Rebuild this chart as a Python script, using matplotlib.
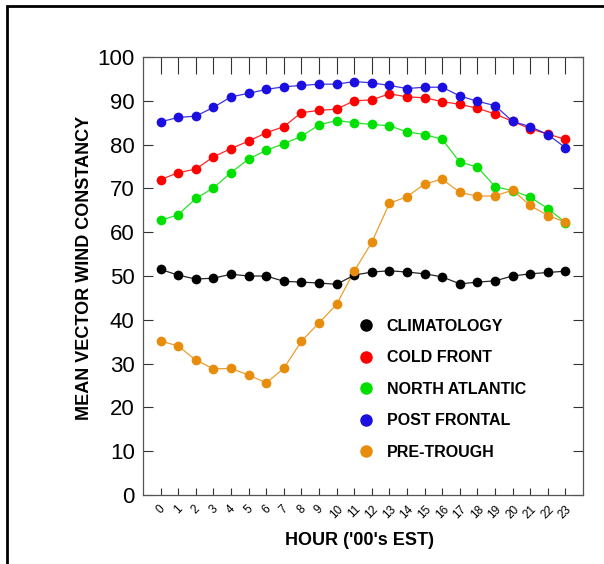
import matplotlib
matplotlib.use("Agg")
import matplotlib.pyplot as plt
from matplotlib.lines import Line2D
from matplotlib.patches import Rectangle

hours = list(range(24))

climatology = [51.5, 50.2, 49.3, 49.5, 50.4, 50.0, 50.0, 48.8, 48.6, 48.4, 48.1, 50.2,
               50.9, 51.2, 50.9, 50.5, 49.8, 48.2, 48.6, 48.9, 50.0, 50.5, 50.8, 51.1]
cold_front = [72.0, 73.6, 74.4, 77.2, 79.1, 80.8, 82.7, 84.1, 87.3, 87.8, 88.1, 90.0,
              90.2, 91.6, 90.9, 90.7, 89.8, 89.2, 88.3, 87.0, 85.3, 83.6, 82.4, 81.2]
north_atlantic = [62.7, 64.0, 67.7, 70.1, 73.6, 76.7, 78.7, 80.2, 81.9, 84.5, 85.5, 85.0,
                  84.6, 84.3, 82.9, 82.3, 81.2, 76.0, 74.9, 70.4, 69.5, 68.0, 65.4, 62.2]
post_frontal = [85.2, 86.2, 86.5, 88.5, 90.9, 91.7, 92.6, 93.2, 93.5, 93.8, 93.8, 94.4,
                94.1, 93.5, 92.8, 93.1, 93.1, 91.1, 89.9, 88.9, 85.3, 84.1, 82.3, 79.3]
pre_trough = [35.2, 34.0, 30.8, 28.8, 28.9, 27.4, 25.6, 28.9, 35.1, 39.3, 43.5, 51.1,
              57.7, 66.6, 68.1, 71.0, 72.1, 69.1, 68.2, 68.3, 69.6, 66.1, 63.8, 62.3]

series = [
    ("CLIMATOLOGY", climatology, "#000000"),
    ("COLD FRONT", cold_front, "#ff0000"),
    ("NORTH ATLANTIC", north_atlantic, "#00e000"),
    ("POST FRONTAL", post_frontal, "#1a0fe0"),
    ("PRE-TROUGH", pre_trough, "#e88c0c"),
]

plt.rcParams["font.family"] = ["Liberation Sans", "DejaVu Sans"]

fig = plt.figure(figsize=(6.04, 5.64), dpi=100)
ax = fig.add_axes([143 / 604, 1 - 495 / 564, 440 / 604, 438 / 564])

# figure frame (left and top edges visible)
fig.add_artist(Rectangle((7 / 604, -0.05), 1.2, 1 - 6 / 564 + 0.05, transform=fig.transFigure,
                         fill=False, edgecolor="black", linewidth=2))

for name, vals, color in series:
    ax.plot(hours, vals, color=color, linewidth=0.9, alpha=0.85, zorder=2)
    ax.plot(hours, vals, linestyle="none", marker="o", markersize=7,
            color=color, markeredgewidth=0, zorder=3)

ax.set_xlim(-1, 24)
ax.set_ylim(0, 100)
ax.set_yticks(range(0, 101, 10))
ax.set_xticks(hours)
ax.set_xticklabels([str(h) for h in hours], rotation=45, fontsize=8.5)
ax.tick_params(axis="y", direction="in", length=7, labelsize=16, right=True, pad=6,
               color="#333333")
ax.tick_params(axis="x", direction="in", length=5, top=True, pad=6, color="#333333")
for sp in ax.spines.values():
    sp.set_color("#555555")
    sp.set_linewidth(0.9)

# top ticks are longer in the original
for t in ax.xaxis.get_major_ticks():
    t.tick2line.set_markersize(12)

ax.set_ylabel("MEAN VECTOR WIND CONSTANCY", fontsize=13, fontweight="bold", va="center")
ax.yaxis.set_label_coords(-0.134, 0.518)
ax.set_xlabel("HOUR ('00's EST)", fontsize=13, fontweight="bold", va="center")
ax.xaxis.set_label_coords(0.491, -0.103)

handles = [Line2D([], [], linestyle="none", marker="o", markersize=9, color=c,
                  markeredgewidth=0) for _, _, c in series]
labels = [n for n, _, _ in series]
leg = ax.legend(handles, labels, loc="upper left", bbox_to_anchor=(0.47, 0.402),
                frameon=False, labelspacing=1.03, handletextpad=0.3,
                borderaxespad=0, borderpad=0,
                prop={"weight": "bold", "size": 11.5})

fig.savefig("out.png", dpi=100)
